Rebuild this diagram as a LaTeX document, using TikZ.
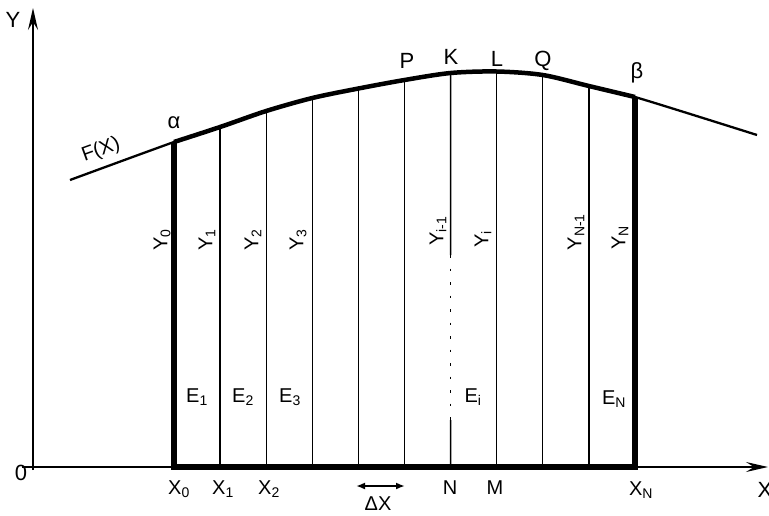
\documentclass[tikz,border=0pt]{standalone}
\usepackage{fontspec}
\setmainfont{Liberation Sans}
\usetikzlibrary{arrows.meta,positioning}
\tikzset{
  axis/.style={line width=1.7pt},
  edge/.style={line width=5.5pt,line join=miter},
  strip/.style={line width=1.3pt},
  lbl/.style={font=\fontsize{20}{22}\selectfont,inner sep=1pt},
  big/.style={font=\fontsize{22}{24}\selectfont,inner sep=1pt},
  ylbl/.style={lbl,rotate=90},
  arr/.style={-{Stealth[length=22pt,width=10pt,inset=8pt]},axis},
  dx/.style={{Latex[length=9pt,width=7pt]}-{Latex[length=9pt,width=7pt]},line width=2pt}
}
\begin{document}
\begin{tikzpicture}[x=1pt,y=-1pt]
\useasboundingbox (0,0) rectangle (769,515);
% axes
\coordinate (xl) at (22,467); \coordinate (xr) at (768,467);
\coordinate (yb) at (33,470); \coordinate (yt) at (33,8);
\draw[arr] (xl) -- (xr);
\draw[arr] (yb) -- (yt);
% points on the curve and on the axis
\foreach \i/\yy in {0/142,1/127,2/111,3/98,4/88.5,5/80,6/73,7/71.5,8/75,9/86,10/97}{
  \coordinate (c\i) at ({174+46.1*\i},\yy);
  \coordinate (b\i) at ({174+46.1*\i},467);
}
\coordinate (f0) at (70,180); \coordinate (f1) at (757,135);
% strips
\foreach \i in {1,2,3,4,5,7,8,9} \draw[strip] (c\i) -- (b\i);
\coordinate (n1) at (450.6,255); \coordinate (n2) at (450.6,420);
\draw[strip] (c6) -- (n1);
\draw[strip,dash pattern=on 2.5pt off 11pt] (n1) -- (n2);
\draw[strip] (n2) -- (b6);
% outline and curve
\draw[edge] (c0) -- (b0) -- (b10) -- (c10);
\draw[line width=2.3pt] plot[smooth] coordinates {(f0) (c0) (c1) (c2) (c3) (c4) (c5) (c6) (c7) (c8) (c9) (c10) (f1)};
\draw[line width=4.5pt] plot[smooth] coordinates {(c0) (c1) (c2) (c3) (c4) (c5) (c6) (c7) (c8) (c9) (c10)};
% labels
\node[big] (ly) at (13,20) {Y};
\node[big] (lo) at (21,473) {0};
\node[big] (lx) at (765,490) {X};
\node[lbl,rotate=20] (lf) at (101,150) {F(X)};
\node[big] (la) at (174,123) {α};
\node[big] (lp) at (407,61) {P};
\node[big] (lk) at (451,57) {K};
\node[big] (ll) at (497,59) {L};
\node[big] (lq) at (543,61) {Q};
\node[big] (lb) at (637,73) {β};
\node[ylbl] (y0) at (162,240) {Y\textsubscript{0}};
\node[ylbl] (y1) at (207,240) {Y\textsubscript{1}};
\node[ylbl] (y2) at (253,240) {Y\textsubscript{2}};
\node[ylbl] (y3) at (298,240) {Y\textsubscript{3}};
\node[ylbl] (yi1) at (438,231) {Y\textsubscript{i-1}};
\node[ylbl] (yi) at (483,239) {Y\textsubscript{i}};
\node[ylbl] (yn1) at (576,232) {Y\textsubscript{N-1}};
\node[ylbl] (yn) at (620,238) {Y\textsubscript{N}};
\node[lbl] (e1) at (197,397) {E\textsubscript{1}};
\node[lbl] (e2) at (243,397) {E\textsubscript{2}};
\node[lbl] (e3) at (290,397) {E\textsubscript{3}};
\node[lbl] (ei) at (473,397) {E\textsubscript{i}};
\node[lbl] (en) at (614,399) {E\textsubscript{N}};
\node[lbl] (x0) at (179,489) {X\textsubscript{0}};
\node[lbl] (x1) at (223,489) {X\textsubscript{1}};
\node[lbl] (x2) at (269,489) {X\textsubscript{2}};
\node[lbl] (ln) at (450,488) {N};
\node[lbl] (lm) at (495,488) {M};
\node[lbl] (xn) at (641,490) {X\textsubscript{N}};
% width of a strip
\coordinate (d0) at (356,486); \coordinate (d1) at (405,486);
\draw[dx] (d0) -- (d1);
\node[lbl] (ld) at (378,504) {ΔX};
\end{tikzpicture}
\end{document}
